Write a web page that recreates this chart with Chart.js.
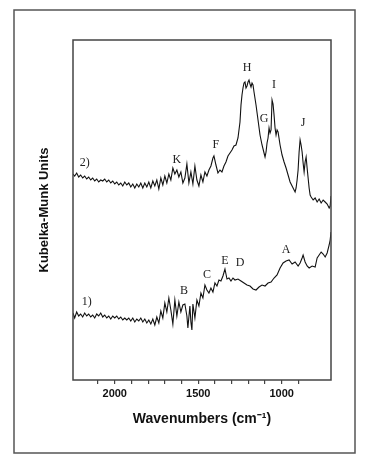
<!DOCTYPE html>
<html>
<head>
<meta charset="utf-8">
<script src="https://cdn.jsdelivr.net/npm/chart.js@4"></script>
<style>
  body { margin: 0; background: #fff; }
  canvas { display: block; }
</style>
</head>
<body>
<canvas id="myChart" width="365" height="465"></canvas>
<script>
// spectrum 2) (upper trace)
var wavenumbers2 = [2250, 2240, 2228, 2216, 2204, 2192, 2180, 2168, 2156, 2144, 2132, 2120, 2108, 2096, 2084, 2072, 2060, 2048, 2036, 2024,
  2012, 2000, 1988, 1976, 1964, 1952, 1940, 1928, 1916, 1904, 1892, 1880, 1868, 1856, 1844, 1832, 1820, 1808, 1796, 1784,
  1772, 1760, 1748, 1736, 1724, 1712, 1700, 1688, 1676, 1664, 1652, 1640, 1628, 1616, 1604, 1592, 1580, 1568, 1556, 1544,
  1532, 1520, 1508, 1496, 1484, 1472, 1460, 1448, 1436, 1424, 1412, 1406, 1394, 1382, 1370, 1358, 1346, 1334, 1322, 1310,
  1298, 1286, 1274, 1262, 1250, 1244, 1238, 1232, 1226, 1220, 1214, 1208, 1202, 1196, 1190, 1184, 1178, 1172, 1166, 1154,
  1142, 1130, 1118, 1106, 1100, 1094, 1088, 1082, 1076, 1070, 1064, 1058, 1052, 1046, 1040, 1034, 1028, 1022, 1010, 998,
  986, 974, 962, 950, 938, 926, 920, 914, 908, 902, 896, 890, 884, 878, 872, 866, 860, 854, 848, 842,
  836, 830, 824, 812, 800, 788, 776, 764, 752, 740, 728, 716, 710, 705];
var kmUnits2 = [2.06, 2.04, 2.07, 2.03, 2.05, 2.02, 2.04, 2.01, 2.03, 2.00, 2.02, 1.99, 2.01, 1.98, 2.00, 1.99, 2.01, 1.98, 2.00, 1.97,
  1.99, 1.96, 1.98, 1.95, 1.97, 1.94, 1.98, 1.95, 1.97, 1.93, 1.96, 1.92, 1.96, 1.93, 1.97, 1.92, 1.97, 1.93, 1.98, 1.92,
  1.99, 1.94, 2.00, 1.91, 2.02, 1.95, 2.04, 1.97, 2.06, 2.00, 2.12, 2.06, 2.10, 2.03, 2.08, 1.97, 2.02, 2.16, 1.97, 2.08,
  1.96, 2.14, 2.00, 1.94, 2.05, 1.98, 2.08, 2.04, 2.10, 2.14, 2.22, 2.24, 2.15, 2.07, 2.10, 2.08, 2.14, 2.18, 2.24, 2.27,
  2.30, 2.34, 2.35, 2.42, 2.58, 2.75, 2.85, 2.92, 2.97, 2.98, 2.92, 2.94, 2.98, 3.00, 2.96, 2.93, 2.97, 2.95, 2.88, 2.75,
  2.60, 2.45, 2.35, 2.27, 2.23, 2.28, 2.37, 2.42, 2.52, 2.47, 2.50, 2.80, 2.76, 2.65, 2.52, 2.45, 2.50, 2.48, 2.35, 2.25,
  2.18, 2.12, 2.05, 1.98, 1.94, 1.90, 1.88, 1.92, 2.00, 2.10, 2.28, 2.40, 2.35, 2.28, 2.17, 2.08, 2.18, 2.23, 2.12, 2.02,
  1.92, 1.85, 1.83, 1.80, 1.82, 1.78, 1.81, 1.77, 1.80, 1.78, 1.76, 1.72, 1.74, 1.84];

// spectrum 1) (lower trace)
var wavenumbers1 = [2250, 2240, 2228, 2216, 2204, 2192, 2180, 2168, 2156, 2144, 2132, 2120, 2108, 2096, 2084, 2072, 2060, 2048, 2036, 2024,
  2012, 2000, 1988, 1976, 1964, 1952, 1940, 1928, 1916, 1904, 1892, 1880, 1868, 1856, 1844, 1832, 1820, 1808, 1796, 1784,
  1772, 1760, 1748, 1736, 1724, 1712, 1700, 1688, 1676, 1664, 1652, 1640, 1628, 1616, 1604, 1592, 1580, 1568, 1562, 1550,
  1544, 1538, 1532, 1520, 1508, 1496, 1484, 1472, 1460, 1448, 1436, 1424, 1412, 1400, 1388, 1376, 1364, 1352, 1340, 1328,
  1316, 1304, 1292, 1280, 1262, 1244, 1226, 1208, 1190, 1172, 1154, 1136, 1118, 1100, 1082, 1064, 1046, 1028, 1010, 992,
  974, 956, 938, 920, 902, 890, 878, 872, 860, 848, 836, 818, 800, 788, 776, 764, 752, 740, 728, 716,
  710, 705];
var kmUnits1 = [0.67, 0.62, 0.68, 0.64, 0.66, 0.63, 0.67, 0.64, 0.66, 0.63, 0.65, 0.62, 0.66, 0.64, 0.67, 0.63, 0.65, 0.62, 0.64, 0.61,
  0.64, 0.62, 0.64, 0.61, 0.63, 0.60, 0.62, 0.60, 0.62, 0.59, 0.62, 0.58, 0.61, 0.59, 0.62, 0.58, 0.61, 0.57, 0.60, 0.56,
  0.61, 0.55, 0.63, 0.57, 0.69, 0.62, 0.77, 0.68, 0.82, 0.70, 0.56, 0.80, 0.64, 0.78, 0.68, 0.75, 0.76, 0.64, 0.52, 0.74,
  0.58, 0.50, 0.76, 0.62, 0.80, 0.74, 0.87, 0.82, 0.95, 0.90, 0.87, 0.92, 0.88, 0.97, 0.94, 1.00, 0.99, 1.04, 1.11, 1.01,
  1.02, 0.99, 1.02, 1.00, 1.01, 0.99, 0.97, 0.95, 0.94, 0.91, 0.90, 0.93, 0.95, 0.94, 0.97, 0.98, 1.02, 1.05, 1.12, 1.17,
  1.19, 1.20, 1.16, 1.18, 1.14, 1.17, 1.22, 1.25, 1.18, 1.14, 1.12, 1.14, 1.13, 1.22, 1.25, 1.28, 1.26, 1.23, 1.27, 1.35,
  1.40, 1.48];

// peak letters and trace numbers
var peakNames = ['2)', 'K', 'F', 'H', 'G', 'I', 'J', '1)', 'B', 'C', 'E', 'D', 'A'];
var peakWavenumbers = [2180, 1628, 1394, 1208, 1106, 1046, 872, 2168, 1586, 1448, 1340, 1250, 974];
var peakHeights = [2.17, 2.20, 2.35, 3.12, 2.61, 2.95, 2.57, 0.78, 0.89, 1.05, 1.19, 1.17, 1.30];

var xTickLabels = [2000, 1500, 1000];

function toPoints(xs, ys) {
  return xs.map(function (x, i) { return { x: x, y: ys[i] }; });
}

var framePlugin = {
  id: 'frame',
  beforeDraw: function (chart) {
    var c = chart.ctx;
    c.save();
    c.fillStyle = '#fff';
    c.fillRect(0, 0, chart.width, chart.height);
    c.strokeStyle = '#555';
    c.lineWidth = 1.5;
    c.strokeRect(14, 10, 341, 443);
    c.restore();
  },
  afterDraw: function (chart) {
    var a = chart.chartArea;
    var c = chart.ctx;
    c.save();
    c.strokeStyle = '#444';
    c.lineWidth = 1.5;
    c.strokeRect(a.left, a.top, a.right - a.left, a.bottom - a.top);
    // peak labels
    var xs = chart.scales.x, ys = chart.scales.y;
    c.fillStyle = '#222';
    c.font = '12px "Liberation Serif", "DejaVu Serif", serif';
    c.textAlign = 'center';
    c.textBaseline = 'middle';
    peakNames.forEach(function (name, i) {
      c.fillText(name, xs.getPixelForValue(peakWavenumbers[i]), ys.getPixelForValue(peakHeights[i]));
    });
    c.restore();
  }
};

var ctx = document.getElementById('myChart').getContext('2d');
var chart = new Chart(ctx, {
  type: 'line',
  data: {
    datasets: [{
      label: '2)',
      data: toPoints(wavenumbers2, kmUnits2),
      borderColor: '#111',
      borderWidth: 1.1,
      pointRadius: 0,
      tension: 0
    }, {
      label: '1)',
      data: toPoints(wavenumbers1, kmUnits1),
      borderColor: '#111',
      borderWidth: 1.1,
      pointRadius: 0,
      tension: 0
    }]
  },
  options: {
    responsive: false,
    animation: false,
    layout: { padding: { top: 40, right: 34, left: 0, bottom: 0 } },
    plugins: { legend: { display: false }, tooltip: { enabled: false } },
    scales: {
      x: {
        type: 'linear',
        reverse: true,
        min: 705,
        max: 2250,
        afterFit: function (s) { s.height = 85; },
        afterBuildTicks: function (s) {
          s.ticks = s.ticks.filter(function (t) { return t.value % 100 === 0; });
        },
        border: { display: false },
        grid: { drawOnChartArea: false, tickLength: 4, color: '#444', lineWidth: 1.2 },
        ticks: {
          stepSize: 100,
          autoSkip: false,
          maxRotation: 0,
          padding: 3,
          color: '#111',
          font: { family: '"Liberation Sans", Arial, sans-serif', size: 11, weight: 'bold' },
          callback: function (v) { return xTickLabels.indexOf(v) >= 0 ? String(v) : ''; }
        },
        title: {
          display: true,
          text: 'Wavenumbers (cm\u207B\u00B9)',
          color: '#111',
          padding: { top: 0, bottom: 37 },
          font: { family: '"Liberation Sans", Arial, sans-serif', size: 14, weight: 'bold' }
        }
      },
      y: {
        min: 0,
        max: 3.4,
        afterFit: function (s) { s.width = 73; },
        border: { display: false },
        grid: { display: false },
        ticks: { display: false },
        title: {
          display: true,
          text: 'Kubelka-Munk Units',
          color: '#111',
          padding: { top: 37, bottom: 0 },
          font: { family: '"Liberation Sans", Arial, sans-serif', size: 13, weight: 'bold' }
        }
      }
    }
  },
  plugins: [framePlugin]
});
</script>
</body>
</html>
